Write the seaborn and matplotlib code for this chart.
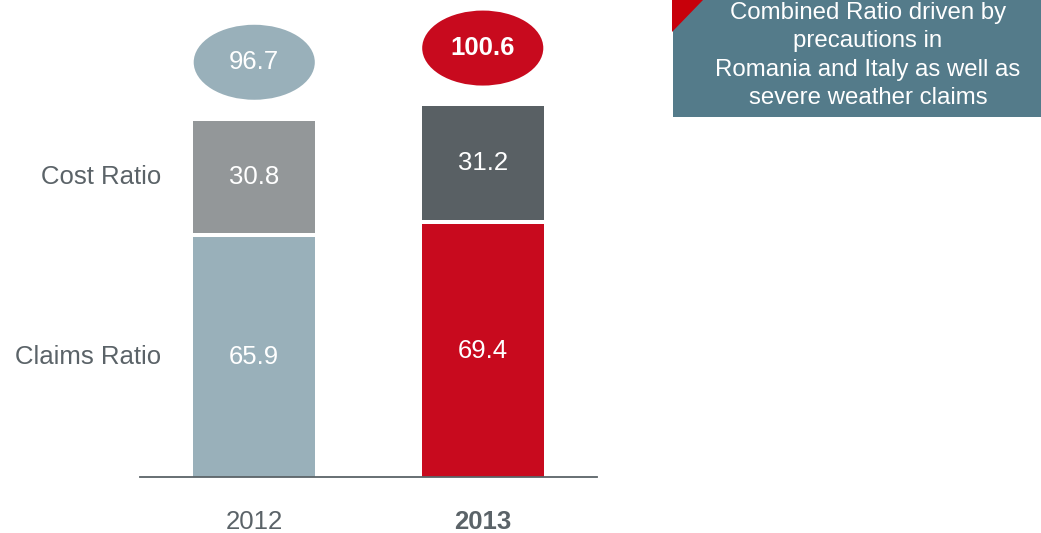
import matplotlib
matplotlib.use("Agg")
import matplotlib.pyplot as plt
import pandas as pd
import seaborn as sns
from matplotlib.patches import Ellipse, Polygon, Rectangle

# values
years = ["2012", "2013"]
claims_ratio = [65.9, 69.4]
cost_ratio = [30.8, 31.2]
combined_ratio = [96.7, 100.6]
segment_names = ["Claims Ratio", "Cost Ratio"]
note_lines = [
    "Combined Ratio driven by",
    "precautions in",
    "Romania and Italy as well as",
    "severe weather claims",
]

claims_colors = {"2012": "#99b0ba", "2013": "#c80a1e"}
cost_colors = ["#939799", "#596064"]
bubble_colors = ["#99b0ba", "#c80a1e"]
TEXT = "#5b6368"
GAP = 1.2          # white gap between stacked segments
BUBBLE_OFFSET = 16 # bubble centre above bar top
FS = 18.5

sns.set_theme(style="white")
plt.rcParams["font.family"] = ["Liberation Sans", "DejaVu Sans"]

W, H = 1041, 533
fig = plt.figure(figsize=(W / 100, H / 100), dpi=100)
ax = fig.add_axes([140 / W, 1 - 477 / H, (597 - 140) / W, 477 / H])

df = pd.DataFrame({"year": years, "claims": claims_ratio, "cost": cost_ratio})
df["cost_base"] = df["claims"] + GAP

sns.barplot(data=df, x="year", y="claims", hue="year", palette=claims_colors,
            order=years, width=0.535, saturation=1, errorbar=None,
            legend=False, linewidth=0, ax=ax)
sns.barplot(data=df, x="year", y="cost", color=cost_colors[0], order=years,
            width=0.535, saturation=1, errorbar=None, linewidth=0,
            bottom=df["cost_base"].values, ax=ax)

# recolour the cost segments per year
for patch, c in zip(ax.containers[-1], cost_colors):
    patch.set_facecolor(c)

for cont in ax.containers:
    ax.bar_label(cont, fmt="%.1f", label_type="center", color="white",
                 fontsize=FS)

# combined ratio bubbles
for i, total in enumerate(combined_ratio):
    yc = total + GAP + BUBBLE_OFFSET
    ax.add_patch(Ellipse((i, yc), width=0.53, height=20.6,
                         facecolor=bubble_colors[i], edgecolor="none",
                         clip_on=False))
    ax.text(i, yc, f"{total:.1f}", ha="center", va="center", color="white",
            fontsize=FS, fontweight="bold" if i == 1 else "normal")

# segment labels on the left
ax.text(-0.408, claims_ratio[0] / 2, segment_names[0], ha="right",
        va="center", color=TEXT, fontsize=FS)
ax.text(-0.408, claims_ratio[0] + GAP + cost_ratio[0] / 2, segment_names[1],
        ha="right", va="center", color=TEXT, fontsize=FS)

ax.set_xlim(-0.5, 1.5)
ax.set_ylim(0, 131)
ax.set_yticks([])
ax.set_xlabel("")
ax.set_ylabel("")
sns.despine(ax=ax, left=True)
ax.spines["bottom"].set_color(TEXT)
ax.spines["bottom"].set_linewidth(1.3)
ax.tick_params(axis="x", length=0, pad=24, labelsize=FS, labelcolor=TEXT)
ax.get_xticklabels()[1].set_fontweight("bold")

# note box top right
fig.add_artist(Rectangle((673 / W, 1 - 117 / H), (W - 673) / W, 117 / H,
                         transform=fig.transFigure, facecolor="#547b8a",
                         edgecolor="none"))
fig.add_artist(Polygon([[672 / W, 1], [703 / W, 1], [672 / W, 1 - 32 / H]],
                       closed=True, transform=fig.transFigure,
                       facecolor="#c8000a", edgecolor="none"))
fig.text(868 / W, 1 - 55.5 / H, "\n".join(note_lines), ha="center",
         va="center", multialignment="center", color="white", fontsize=17.3,
         linespacing=1.39)

fig.savefig("out.png", dpi=100)
